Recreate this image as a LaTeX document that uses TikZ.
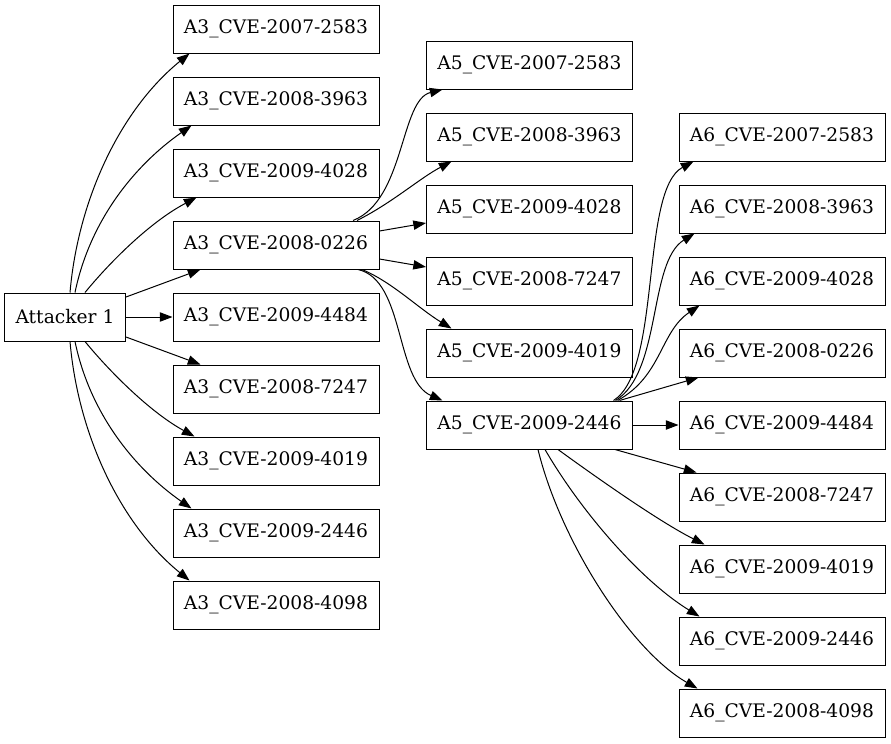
\documentclass[tikz,border=0pt]{standalone}
\usepackage{fontspec}
\setmainfont{DejaVu Serif}
\usetikzlibrary{arrows.meta,calc}
\begin{document}
\begin{tikzpicture}[x=0.75pt,y=-0.75pt,
  box/.style={draw,line width=0.75pt,rectangle,minimum height=36pt,inner sep=0pt,font=\fontsize{14}{16}\selectfont},
  wide/.style={box,minimum width=154.5pt},
  edge/.style={line width=0.75pt,-{Triangle[length=9.5pt,width=7pt]}}]
\useasboundingbox (0,0) rectangle (891,743);
\node[box,minimum width=90.75pt] (att) at (65,317) {Attacker 1};
% A3 column
\node[wide] (a3a) at (276,29) {A3\_CVE-2007-2583};
\node[wide] (a3b) at (276,101) {A3\_CVE-2008-3963};
\node[wide] (a3c) at (276,173) {A3\_CVE-2009-4028};
\node[wide] (a3d) at (276,245) {A3\_CVE-2008-0226};
\node[wide] (a3e) at (276,317) {A3\_CVE-2009-4484};
\node[wide] (a3f) at (276,389) {A3\_CVE-2008-7247};
\node[wide] (a3g) at (276,461) {A3\_CVE-2009-4019};
\node[wide] (a3h) at (276,533) {A3\_CVE-2009-2446};
\node[wide] (a3i) at (276,605) {A3\_CVE-2008-4098};
% A5 column
\node[wide] (a5a) at (529.5,65) {A5\_CVE-2007-2583};
\node[wide] (a5b) at (529.5,137) {A5\_CVE-2008-3963};
\node[wide] (a5c) at (529.5,209) {A5\_CVE-2009-4028};
\node[wide] (a5d) at (529.5,281) {A5\_CVE-2008-7247};
\node[wide] (a5e) at (529.5,353) {A5\_CVE-2009-4019};
\node[wide] (a5f) at (529.5,425) {A5\_CVE-2009-2446};
% A6 column
\node[wide] (a6a) at (782,137) {A6\_CVE-2007-2583};
\node[wide] (a6b) at (782,209) {A6\_CVE-2008-3963};
\node[wide] (a6c) at (782,281) {A6\_CVE-2009-4028};
\node[wide] (a6d) at (782,353) {A6\_CVE-2008-0226};
\node[wide] (a6e) at (782,425) {A6\_CVE-2009-4484};
\node[wide] (a6f) at (782,497) {A6\_CVE-2008-7247};
\node[wide] (a6g) at (782,569) {A6\_CVE-2009-4019};
\node[wide] (a6h) at (782,641) {A6\_CVE-2009-2446};
\node[wide] (a6i) at (782,713) {A6\_CVE-2008-4098};
% Attacker -> A3
\draw[edge] ($(att.north)+(5,0)$) .. controls (78,200) and (120,110) .. ($(a3a.south west)+(17,0)$);
\draw[edge] ($(att.north)+(10,0)$) .. controls (90,220) and (135,165) .. ($(a3b.south west)+(19,0)$);
\draw[edge] ($(att.north)+(20,0)$) .. controls (110,262) and (150,222) .. ($(a3c.south west)+(24,0)$);
\draw[edge] ($(att.east)+(0,-20)$) -- ($(a3d.south west)+(28,0)$);
\draw[edge] (att.east) -- (a3e.west);
\draw[edge] ($(att.east)+(0,20)$) -- ($(a3f.north west)+(28,0)$);
\draw[edge] ($(att.south)+(20,0)$) .. controls (110,372) and (150,412) .. ($(a3g.north west)+(22,0)$);
\draw[edge] ($(att.south)+(10,0)$) .. controls (90,414) and (135,469) .. ($(a3h.north west)+(19,0)$);
\draw[edge] ($(att.south)+(5,0)$) .. controls (78,434) and (120,524) .. ($(a3i.north west)+(17,0)$);
% A3_CVE-2008-0226 -> A5
\draw[edge] ($(a3d.north)+(77,0)$) .. controls (405,200) and (400,100) .. ($(a5a.south west)+(16.5,0)$);
\draw[edge] ($(a3d.north)+(81,0)$) .. controls (392,203) and (420,178) .. ($(a5b.south west)+(25.5,0)$);
\draw[edge] ($(a3d.east)+(0,-14)$) -- ($(a5c.west)+(0,14)$);
\draw[edge] ($(a3d.east)+(0,14)$) -- ($(a5d.west)+(0,-14)$);
\draw[edge] ($(a3d.south)+(86,0)$) .. controls (392,282) and (418,308) .. ($(a5e.north west)+(25.5,0)$);
\draw[edge] ($(a3d.south)+(82,0)$) .. controls (405,280) and (395,380) .. ($(a5f.north west)+(16.5,0)$);
% A5_CVE-2009-2446 -> A6
\draw[edge] ($(a5f.north)+(84,0)$) .. controls (662,370) and (640,190) .. ($(a6a.south west)+(15,0)$);
\draw[edge] ($(a5f.north)+(86,0)$) .. controls (662,372) and (648,262) .. ($(a6b.south west)+(16,0)$);
\draw[edge] ($(a5f.north)+(88,0)$) .. controls (662,376) and (660,332) .. ($(a6c.south west)+(21,0)$);
\draw[edge] ($(a5f.north)+(90,0)$) -- ($(a6d.south west)+(20,0)$);
\draw[edge] (a5f.east) -- (a6e.west);
\draw[edge] ($(a5f.south)+(85.5,0)$) -- ($(a6f.north west)+(18,0)$);
\draw[edge] ($(a5f.south)+(28.5,0)$) .. controls (600,480) and (660,522) .. ($(a6g.north west)+(26,0)$);
\draw[edge] ($(a5f.south)+(15.5,0)$) .. controls (580,510) and (640,580) .. ($(a6h.north west)+(21,0)$);
\draw[edge] ($(a5f.south)+(8.5,0)$) .. controls (560,540) and (630,650) .. ($(a6i.north west)+(19,0)$);
\end{tikzpicture}
\end{document}
